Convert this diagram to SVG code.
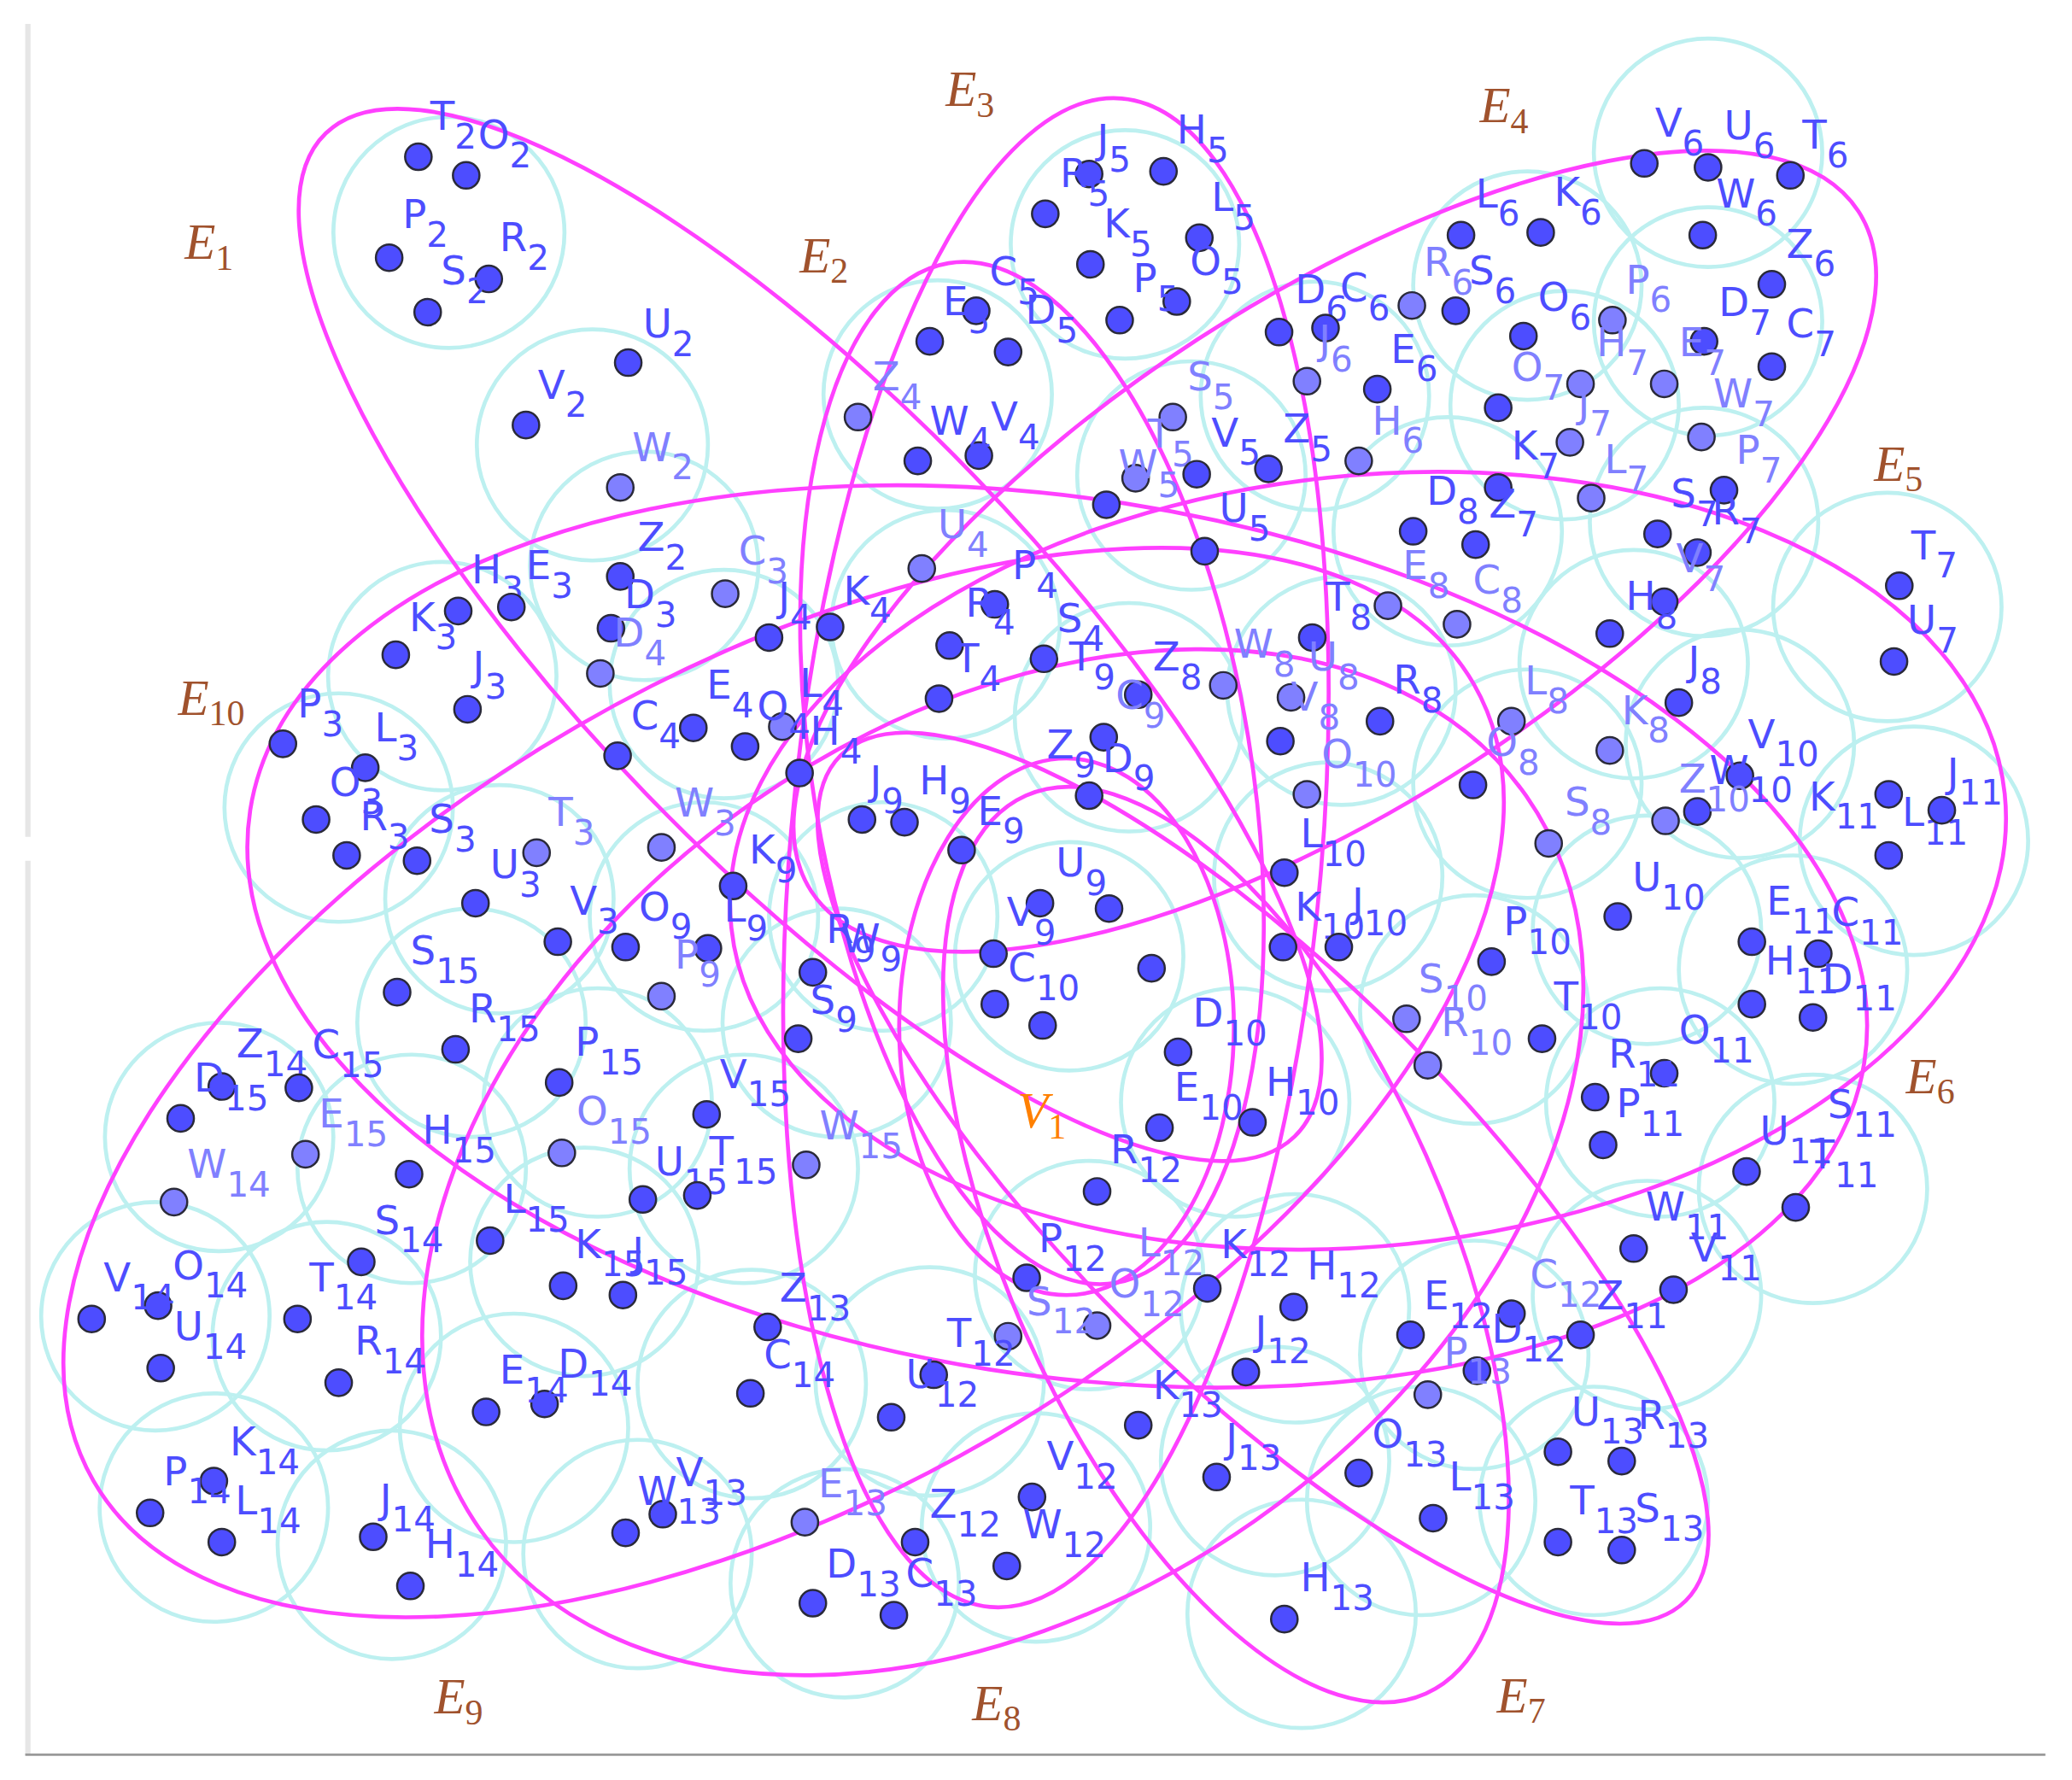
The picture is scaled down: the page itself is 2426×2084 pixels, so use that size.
<svg xmlns="http://www.w3.org/2000/svg" width="2426" height="2084" viewBox="0 0 2426 2084">
<style>
.c{fill:none;stroke:#bdf0f0;stroke-width:3}
.e{fill:none;stroke:#ff40ff;stroke-width:3}
.d{fill:#4d4dff;stroke:#2a2a3a;stroke-width:1.6}
.dl{fill:#8080ff;stroke:#2a2a3a;stroke-width:1.6}
.t{font-family:"DejaVu Sans",sans-serif;font-size:30px;fill:#4d4dff}
.tl{fill:#8080ff}
.s{font-size:26px}
.el{font-family:"Liberation Serif",serif;font-style:italic;font-size:38px;fill:#a0522d}
.en{font-style:normal;font-size:27px}
</style>
<rect width="2426" height="2084" fill="#fff"/>
<g transform="scale(1.5551)">
<g id="frame">
<line x1="21" y1="18" x2="21" y2="630" stroke="#e6e6e6" stroke-width="4"/>
<line x1="21" y1="648" x2="21" y2="1321" stroke="#e6e6e6" stroke-width="4"/>
<line x1="19" y1="1321" x2="1540" y2="1321" stroke="#999" stroke-width="1.8"/>
</g>
<g id="circles">
<circle class="c" cx="338" cy="175" r="87"/><circle class="c" cx="446" cy="335" r="87"/>
<circle class="c" cx="485" cy="426" r="86"/><circle class="c" cx="333" cy="509" r="86"/>
<circle class="c" cx="255" cy="608" r="86"/><circle class="c" cx="376" cy="677" r="86"/>
<circle class="c" cx="545" cy="515" r="86"/><circle class="c" cx="706" cy="297" r="86"/>
<circle class="c" cx="712" cy="470" r="86"/><circle class="c" cx="847" cy="184" r="86"/>
<circle class="c" cx="897" cy="358" r="86"/><circle class="c" cx="990" cy="298" r="86"/>
<circle class="c" cx="1150" cy="215" r="86"/><circle class="c" cx="1286" cy="115" r="86"/>
<circle class="c" cx="1286" cy="242" r="86"/><circle class="c" cx="1178" cy="305" r="86"/>
<circle class="c" cx="1283" cy="393" r="86"/><circle class="c" cx="1090" cy="400" r="86"/>
<circle class="c" cx="1421" cy="457" r="86"/><circle class="c" cx="1441" cy="633" r="86"/>
<circle class="c" cx="1310" cy="560" r="86"/><circle class="c" cx="1230" cy="500" r="86"/>
<circle class="c" cx="1150" cy="590" r="86"/><circle class="c" cx="1010" cy="520" r="86"/>
<circle class="c" cx="850" cy="540" r="86"/><circle class="c" cx="805" cy="720" r="86"/>
<circle class="c" cx="665" cy="690" r="86"/><circle class="c" cx="530" cy="690" r="86"/>
<circle class="c" cx="1000" cy="660" r="86"/><circle class="c" cx="1110" cy="760" r="86"/>
<circle class="c" cx="1240" cy="700" r="86"/><circle class="c" cx="1350" cy="730" r="86"/>
<circle class="c" cx="1250" cy="830" r="86"/><circle class="c" cx="1365" cy="895" r="86"/>
<circle class="c" cx="1240" cy="975" r="86"/><circle class="c" cx="930" cy="830" r="86"/>
<circle class="c" cx="820" cy="960" r="86"/><circle class="c" cx="975" cy="985" r="86"/>
<circle class="c" cx="1110" cy="1020" r="86"/><circle class="c" cx="960" cy="1100" r="86"/>
<circle class="c" cx="1070" cy="1130" r="86"/><circle class="c" cx="1200" cy="1130" r="86"/>
<circle class="c" cx="980" cy="1215" r="86"/><circle class="c" cx="780" cy="1150" r="86"/>
<circle class="c" cx="636" cy="1192" r="86"/><circle class="c" cx="480" cy="1170" r="86"/>
<circle class="c" cx="566" cy="1042" r="86"/><circle class="c" cx="700" cy="1040" r="86"/>
<circle class="c" cx="387" cy="1075" r="86"/><circle class="c" cx="295" cy="1163" r="86"/>
<circle class="c" cx="161" cy="1135" r="86"/><circle class="c" cx="117" cy="991" r="86"/>
<circle class="c" cx="246" cy="1006" r="86"/><circle class="c" cx="165" cy="856" r="86"/>
<circle class="c" cx="310" cy="880" r="86"/><circle class="c" cx="355" cy="770" r="86"/>
<circle class="c" cx="450" cy="830" r="86"/><circle class="c" cx="440" cy="950" r="86"/>
<circle class="c" cx="560" cy="880" r="86"/><circle class="c" cx="630" cy="770" r="86"/>
</g>
<g id="hyperedges">
<ellipse id="edge1" class="e" cx="610" cy="478" rx="525" ry="172" transform="rotate(46 610 478)"/>
<ellipse id="edge2" class="e" cx="777" cy="582" rx="165" ry="389" transform="rotate(-9.3 777 582)"/>
<ellipse id="edge3" class="e" cx="795" cy="642" rx="200" ry="570" transform="rotate(5 795 642)"/>
<ellipse id="edge4" class="e" cx="1005" cy="415" rx="470" ry="190" transform="rotate(-33 1005 415)"/>
<ellipse id="edge5" class="e" cx="1030" cy="648" rx="482" ry="290" transform="rotate(-6 1030 648)"/>
<ellipse id="edge6" class="e" cx="923" cy="937" rx="370" ry="165" transform="rotate(66 923 937)"/>
<ellipse id="edge7" class="e" cx="951" cy="887" rx="450" ry="150" transform="rotate(45 951 887)"/>
<ellipse id="edge8" class="e" cx="755" cy="875" rx="481" ry="330" transform="rotate(-35 755 875)"/>
<ellipse id="edge9" class="e" cx="590" cy="815" rx="600" ry="310" transform="rotate(-30 590 815)"/>
<ellipse id="edge10" class="e" cx="796" cy="705" rx="615" ry="330" transform="rotate(8.9 796 705)"/>
<ellipse id="core" class="e" cx="803" cy="773" rx="126" ry="202"/>
</g>
<g id="nodes">
<g id="T2"><circle class="d" cx="315" cy="118" r="10"/><text class="t" x="324" y="98">T<tspan class="s" dy="14">2</tspan></text></g>
<g id="O2"><circle class="d" cx="351" cy="132" r="10"/><text class="t" x="360" y="112">O<tspan class="s" dy="14">2</tspan></text></g>
<g id="P2"><circle class="d" cx="293" cy="194" r="10"/><text class="t" x="303" y="172">P<tspan class="s" dy="14">2</tspan></text></g>
<g id="R2"><circle class="d" cx="368" cy="210" r="10"/><text class="t" x="376" y="189">R<tspan class="s" dy="14">2</tspan></text></g>
<g id="S2"><circle class="d" cx="322" cy="235" r="10"/><text class="t" x="332" y="214">S<tspan class="s" dy="14">2</tspan></text></g>
<g id="U2"><circle class="d" cx="473" cy="273" r="10"/><text class="t" x="484" y="254">U<tspan class="s" dy="14">2</tspan></text></g>
<g id="V2"><circle class="d" cx="396" cy="320" r="10"/><text class="t" x="405" y="300">V<tspan class="s" dy="14">2</tspan></text></g>
<g id="W2"><circle class="dl" cx="467" cy="367" r="10"/><text class="t tl" x="476" y="347">W<tspan class="s" dy="14">2</tspan></text></g>
<g id="Z2"><circle class="d" cx="467" cy="434" r="10"/><text class="t" x="480" y="415">Z<tspan class="s" dy="14">2</tspan></text></g>
<g id="H3"><circle class="d" cx="345" cy="460" r="10"/><text class="t" x="355" y="439">H<tspan class="s" dy="14">3</tspan></text></g>
<g id="E3"><circle class="d" cx="385" cy="457" r="10"/><text class="t" x="396" y="436">E<tspan class="s" dy="14">3</tspan></text></g>
<g id="K3"><circle class="d" cx="298" cy="493" r="10"/><text class="t" x="308" y="475">K<tspan class="s" dy="14">3</tspan></text></g>
<g id="J3"><circle class="d" cx="352" cy="534" r="10"/><text class="t" x="356" y="512">J<tspan class="s" dy="14">3</tspan></text></g>
<g id="P3"><circle class="d" cx="213" cy="560" r="10"/><text class="t" x="224" y="540">P<tspan class="s" dy="14">3</tspan></text></g>
<g id="L3"><circle class="d" cx="275" cy="578" r="10"/><text class="t" x="282" y="558">L<tspan class="s" dy="14">3</tspan></text></g>
<g id="O3"><circle class="d" cx="238" cy="617" r="10"/><text class="t" x="248" y="599">O<tspan class="s" dy="14">3</tspan></text></g>
<g id="R3"><circle class="d" cx="261" cy="644" r="10"/><text class="t" x="271" y="625">R<tspan class="s" dy="14">3</tspan></text></g>
<g id="S3"><circle class="d" cx="314" cy="648" r="10"/><text class="t" x="323" y="627">S<tspan class="s" dy="14">3</tspan></text></g>
<g id="T3"><circle class="dl" cx="404" cy="642" r="10"/><text class="t tl" x="413" y="622">T<tspan class="s" dy="14">3</tspan></text></g>
<g id="U3"><circle class="d" cx="358" cy="680" r="10"/><text class="t" x="369" y="661">U<tspan class="s" dy="14">3</tspan></text></g>
<g id="V3"><circle class="d" cx="420" cy="709" r="10"/><text class="t" x="429" y="689">V<tspan class="s" dy="14">3</tspan></text></g>
<g id="W3"><circle class="dl" cx="498" cy="638" r="10"/><text class="t tl" x="508" y="615">W<tspan class="s" dy="14">3</tspan></text></g>
<g id="C3"><circle class="dl" cx="546" cy="447" r="10"/><text class="t tl" x="556" y="425">C<tspan class="s" dy="14">3</tspan></text></g>
<g id="D3"><circle class="d" cx="460" cy="473" r="10"/><text class="t" x="470" y="458">D<tspan class="s" dy="14">3</tspan></text></g>
<g id="C4"><circle class="d" cx="465" cy="569" r="10"/><text class="t" x="475" y="549">C<tspan class="s" dy="14">4</tspan></text></g>
<g id="D4"><circle class="dl" cx="452" cy="507" r="10"/><text class="t tl" x="462" y="487">D<tspan class="s" dy="14">4</tspan></text></g>
<g id="E4"><circle class="d" cx="522" cy="548" r="10"/><text class="t" x="532" y="526">E<tspan class="s" dy="14">4</tspan></text></g>
<g id="H4"><circle class="d" cx="602" cy="582" r="10"/><text class="t" x="610" y="561">H<tspan class="s" dy="14">4</tspan></text></g>
<g id="J4"><circle class="d" cx="579" cy="480" r="10"/><text class="t" x="586" y="460">J<tspan class="s" dy="14">4</tspan></text></g>
<g id="K4"><circle class="d" cx="625" cy="472" r="10"/><text class="t" x="635" y="455">K<tspan class="s" dy="14">4</tspan></text></g>
<g id="L4"><circle class="dl" cx="589" cy="547" r="10"/><text class="t" x="602" y="525">L<tspan class="s" dy="14">4</tspan></text></g>
<g id="O4"><circle class="d" cx="561" cy="562" r="10"/><text class="t" x="570" y="542">O<tspan class="s" dy="14">4</tspan></text></g>
<g id="P4"><circle class="d" cx="749" cy="455" r="10"/><text class="t" x="762" y="436">P<tspan class="s" dy="14">4</tspan></text></g>
<g id="R4"><circle class="d" cx="715" cy="486" r="10"/><text class="t" x="727" y="464">R<tspan class="s" dy="14">4</tspan></text></g>
<g id="S4"><circle class="d" cx="786" cy="496" r="10"/><text class="t" x="796" y="476">S<tspan class="s" dy="14">4</tspan></text></g>
<g id="T4"><circle class="d" cx="707" cy="526" r="10"/><text class="t" x="719" y="506">T<tspan class="s" dy="14">4</tspan></text></g>
<g id="U4"><circle class="dl" cx="694" cy="428" r="10"/><text class="t tl" x="706" y="405">U<tspan class="s" dy="14">4</tspan></text></g>
<g id="V4"><circle class="d" cx="737" cy="343" r="10"/><text class="t" x="746" y="324">V<tspan class="s" dy="14">4</tspan></text></g>
<g id="W4"><circle class="d" cx="691" cy="347" r="10"/><text class="t" x="700" y="327">W<tspan class="s" dy="14">4</tspan></text></g>
<g id="Z4"><circle class="dl" cx="646" cy="314" r="10"/><text class="t tl" x="657" y="294">Z<tspan class="s" dy="14">4</tspan></text></g>
<g id="C5"><circle class="d" cx="735" cy="234" r="10"/><text class="t" x="745" y="215">C<tspan class="s" dy="14">5</tspan></text></g>
<g id="D5"><circle class="d" cx="759" cy="265" r="10"/><text class="t" x="772" y="244">D<tspan class="s" dy="14">5</tspan></text></g>
<g id="E5"><circle class="d" cx="700" cy="257" r="10"/><text class="t" x="710" y="237">E<tspan class="s" dy="14">5</tspan></text></g>
<g id="H5"><circle class="d" cx="876" cy="129" r="10"/><text class="t" x="886" y="108">H<tspan class="s" dy="14">5</tspan></text></g>
<g id="J5"><circle class="d" cx="820" cy="131" r="10"/><text class="t" x="826" y="115">J<tspan class="s" dy="14">5</tspan></text></g>
<g id="K5"><circle class="d" cx="821" cy="199" r="10"/><text class="t" x="831" y="179">K<tspan class="s" dy="14">5</tspan></text></g>
<g id="L5"><circle class="d" cx="903" cy="179" r="10"/><text class="t" x="912" y="159">L<tspan class="s" dy="14">5</tspan></text></g>
<g id="O5"><circle class="d" cx="886" cy="227" r="10"/><text class="t" x="896" y="207">O<tspan class="s" dy="14">5</tspan></text></g>
<g id="P5"><circle class="d" cx="843" cy="241" r="10"/><text class="t" x="853" y="220">P<tspan class="s" dy="14">5</tspan></text></g>
<g id="R5"><circle class="d" cx="787" cy="161" r="10"/><text class="t" x="798" y="141">R<tspan class="s" dy="14">5</tspan></text></g>
<g id="S5"><circle class="dl" cx="883" cy="314" r="10"/><text class="t tl" x="894" y="294">S<tspan class="s" dy="14">5</tspan></text></g>
<g id="T5"><circle class="dl" cx="855" cy="360" r="10"/><text class="t tl" x="864" y="337">T<tspan class="s" dy="14">5</tspan></text></g>
<g id="U5"><circle class="d" cx="907" cy="415" r="10"/><text class="t" x="918" y="393">U<tspan class="s" dy="14">5</tspan></text></g>
<g id="V5"><circle class="d" cx="901" cy="357" r="10"/><text class="t" x="912" y="336">V<tspan class="s" dy="14">5</tspan></text></g>
<g id="W5"><circle class="d" cx="833" cy="380" r="10"/><text class="t tl" x="842" y="360">W<tspan class="s" dy="14">5</tspan></text></g>
<g id="Z5"><circle class="d" cx="955" cy="353" r="10"/><text class="t" x="966" y="333">Z<tspan class="s" dy="14">5</tspan></text></g>
<g id="D6"><circle class="d" cx="963" cy="250" r="10"/><text class="t" x="975" y="228">D<tspan class="s" dy="14">6</tspan></text></g>
<g id="C6"><circle class="d" cx="998" cy="247" r="10"/><text class="t" x="1009" y="227">C<tspan class="s" dy="14">6</tspan></text></g>
<g id="J6"><circle class="dl" cx="984" cy="287" r="10"/><text class="t tl" x="993" y="266">J<tspan class="s" dy="14">6</tspan></text></g>
<g id="E6"><circle class="d" cx="1037" cy="293" r="10"/><text class="t" x="1047" y="273">E<tspan class="s" dy="14">6</tspan></text></g>
<g id="H6"><circle class="dl" cx="1023" cy="347" r="10"/><text class="t tl" x="1033" y="327">H<tspan class="s" dy="14">6</tspan></text></g>
<g id="R6"><circle class="dl" cx="1063" cy="230" r="10"/><text class="t tl" x="1072" y="208">R<tspan class="s" dy="14">6</tspan></text></g>
<g id="S6"><circle class="d" cx="1096" cy="234" r="10"/><text class="t" x="1106" y="214">S<tspan class="s" dy="14">6</tspan></text></g>
<g id="L6"><circle class="d" cx="1100" cy="177" r="10"/><text class="t" x="1111" y="156">L<tspan class="s" dy="14">6</tspan></text></g>
<g id="K6"><circle class="d" cx="1160" cy="175" r="10"/><text class="t" x="1170" y="155">K<tspan class="s" dy="14">6</tspan></text></g>
<g id="O6"><circle class="d" cx="1147" cy="253" r="10"/><text class="t" x="1158" y="234">O<tspan class="s" dy="14">6</tspan></text></g>
<g id="V6"><circle class="d" cx="1238" cy="123" r="10"/><text class="t" x="1246" y="103">V<tspan class="s" dy="14">6</tspan></text></g>
<g id="U6"><circle class="d" cx="1286" cy="126" r="10"/><text class="t" x="1298" y="105">U<tspan class="s" dy="14">6</tspan></text></g>
<g id="T6"><circle class="d" cx="1348" cy="132" r="10"/><text class="t" x="1357" y="112">T<tspan class="s" dy="14">6</tspan></text></g>
<g id="W6"><circle class="d" cx="1282" cy="177" r="10"/><text class="t" x="1292" y="156">W<tspan class="s" dy="14">6</tspan></text></g>
<g id="Z6"><circle class="d" cx="1334" cy="214" r="10"/><text class="t" x="1345" y="194">Z<tspan class="s" dy="14">6</tspan></text></g>
<g id="P6"><circle class="dl" cx="1214" cy="241" r="10"/><text class="t tl" x="1224" y="221">P<tspan class="s" dy="14">6</tspan></text></g>
<g id="D7"><circle class="d" cx="1283" cy="257" r="10"/><text class="t" x="1294" y="238">D<tspan class="s" dy="14">7</tspan></text></g>
<g id="C7"><circle class="d" cx="1334" cy="276" r="10"/><text class="t" x="1345" y="254">C<tspan class="s" dy="14">7</tspan></text></g>
<g id="E7"><circle class="dl" cx="1253" cy="289" r="10"/><text class="t tl" x="1264" y="268">E<tspan class="s" dy="14">7</tspan></text></g>
<g id="H7"><circle class="dl" cx="1190" cy="289" r="10"/><text class="t tl" x="1202" y="268">H<tspan class="s" dy="14">7</tspan></text></g>
<g id="W7"><circle class="dl" cx="1281" cy="329" r="10"/><text class="t tl" x="1290" y="307">W<tspan class="s" dy="14">7</tspan></text></g>
<g id="O7"><circle class="d" cx="1128" cy="307" r="10"/><text class="t tl" x="1138" y="287">O<tspan class="s" dy="14">7</tspan></text></g>
<g id="J7"><circle class="dl" cx="1182" cy="333" r="10"/><text class="t tl" x="1188" y="314">J<tspan class="s" dy="14">7</tspan></text></g>
<g id="K7"><circle class="d" cx="1128" cy="367" r="10"/><text class="t" x="1138" y="346">K<tspan class="s" dy="14">7</tspan></text></g>
<g id="L7"><circle class="dl" cx="1198" cy="375" r="10"/><text class="t tl" x="1208" y="356">L<tspan class="s" dy="14">7</tspan></text></g>
<g id="P7"><circle class="d" cx="1298" cy="369" r="10"/><text class="t tl" x="1307" y="349">P<tspan class="s" dy="14">7</tspan></text></g>
<g id="S7"><circle class="d" cx="1248" cy="402" r="10"/><text class="t" x="1258" y="382">S<tspan class="s" dy="14">7</tspan></text></g>
<g id="R7"><circle class="d" cx="1278" cy="416" r="10"/><text class="t" x="1289" y="395">R<tspan class="s" dy="14">7</tspan></text></g>
<g id="V7"><circle class="d" cx="1253" cy="453" r="10"/><text class="t tl" x="1262" y="431">V<tspan class="s" dy="14">7</tspan></text></g>
<g id="T7"><circle class="d" cx="1430" cy="441" r="10"/><text class="t" x="1439" y="421">T<tspan class="s" dy="14">7</tspan></text></g>
<g id="U7"><circle class="d" cx="1426" cy="498" r="10"/><text class="t" x="1436" y="477">U<tspan class="s" dy="14">7</tspan></text></g>
<g id="Z7"><circle class="d" cx="1111" cy="410" r="10"/><text class="t" x="1121" y="390">Z<tspan class="s" dy="14">7</tspan></text></g>
<g id="D8"><circle class="d" cx="1064" cy="400" r="10"/><text class="t" x="1074" y="380">D<tspan class="s" dy="14">8</tspan></text></g>
<g id="E8"><circle class="dl" cx="1045" cy="456" r="10"/><text class="t tl" x="1056" y="436">E<tspan class="s" dy="14">8</tspan></text></g>
<g id="C8"><circle class="dl" cx="1097" cy="470" r="10"/><text class="t tl" x="1109" y="447">C<tspan class="s" dy="14">8</tspan></text></g>
<g id="T8"><circle class="d" cx="988" cy="480" r="10"/><text class="t" x="998" y="460">T<tspan class="s" dy="14">8</tspan></text></g>
<g id="U8"><circle class="dl" cx="972" cy="525" r="10"/><text class="t tl" x="985" y="505">U<tspan class="s" dy="14">8</tspan></text></g>
<g id="W8"><circle class="dl" cx="921" cy="516" r="10"/><text class="t tl" x="929" y="495">W<tspan class="s" dy="14">8</tspan></text></g>
<g id="V8"><circle class="d" cx="964" cy="558" r="10"/><text class="t tl" x="972" y="535">V<tspan class="s" dy="14">8</tspan></text></g>
<g id="R8"><circle class="d" cx="1039" cy="543" r="10"/><text class="t" x="1049" y="522">R<tspan class="s" dy="14">8</tspan></text></g>
<g id="Z8"><circle class="d" cx="857" cy="523" r="10"/><text class="t" x="868" y="505">Z<tspan class="s" dy="14">8</tspan></text></g>
<g id="H8"><circle class="d" cx="1212" cy="477" r="10"/><text class="t" x="1224" y="459">H<tspan class="s" dy="14">8</tspan></text></g>
<g id="J8"><circle class="d" cx="1264" cy="529" r="10"/><text class="t" x="1271" y="508">J<tspan class="s" dy="14">8</tspan></text></g>
<g id="K8"><circle class="dl" cx="1212" cy="565" r="10"/><text class="t tl" x="1221" y="545">K<tspan class="s" dy="14">8</tspan></text></g>
<g id="L8"><circle class="dl" cx="1138" cy="543" r="10"/><text class="t tl" x="1148" y="523">L<tspan class="s" dy="14">8</tspan></text></g>
<g id="O8"><circle class="d" cx="1109" cy="591" r="10"/><text class="t tl" x="1119" y="569">O<tspan class="s" dy="14">8</tspan></text></g>
<g id="S8"><circle class="dl" cx="1166" cy="635" r="10"/><text class="t tl" x="1178" y="614">S<tspan class="s" dy="14">8</tspan></text></g>
<g id="Z9"><circle class="d" cx="831" cy="555" r="10"/><text class="t" x="788" y="571">Z<tspan class="s" dy="14">9</tspan></text></g>
<g id="D9"><circle class="d" cx="820" cy="599" r="10"/><text class="t" x="830" y="581">D<tspan class="s" dy="14">9</tspan></text></g>
<g id="C9"><text class="t tl" x="840" y="534">C<tspan class="s" dy="14">9</tspan></text></g>
<g id="T9"><text class="t" x="805" y="505">T<tspan class="s" dy="14">9</tspan></text></g>
<g id="U9"><circle class="d" cx="835" cy="684" r="10"/><text class="t" x="795" y="660">U<tspan class="s" dy="14">9</tspan></text></g>
<g id="V9"><circle class="d" cx="783" cy="680" r="10"/><text class="t" x="758" y="697">V<tspan class="s" dy="14">9</tspan></text></g>
<g id="J9"><circle class="d" cx="649" cy="617" r="10"/><text class="t" x="655" y="598">J<tspan class="s" dy="14">9</tspan></text></g>
<g id="H9"><circle class="d" cx="681" cy="619" r="10"/><text class="t" x="692" y="598">H<tspan class="s" dy="14">9</tspan></text></g>
<g id="E9"><circle class="d" cx="724" cy="640" r="10"/><text class="t" x="736" y="621">E<tspan class="s" dy="14">9</tspan></text></g>
<g id="K9"><circle class="d" cx="552" cy="667" r="10"/><text class="t" x="564" y="650">K<tspan class="s" dy="14">9</tspan></text></g>
<g id="L9"><circle class="d" cx="533" cy="714" r="10"/><text class="t" x="545" y="694">L<tspan class="s" dy="14">9</tspan></text></g>
<g id="O9"><circle class="d" cx="471" cy="713" r="10"/><text class="t" x="481" y="693">O<tspan class="s" dy="14">9</tspan></text></g>
<g id="P9"><circle class="dl" cx="498" cy="750" r="10"/><text class="t tl" x="508" y="729">P<tspan class="s" dy="14">9</tspan></text></g>
<g id="R9"><circle class="d" cx="612" cy="732" r="10"/><text class="t" x="622" y="710">R<tspan class="s" dy="14">9</tspan></text></g>
<g id="W9"><text class="t" x="633" y="717">W<tspan class="s" dy="14">9</tspan></text></g>
<g id="S9"><circle class="d" cx="601" cy="782" r="10"/><text class="t" x="610" y="763">S<tspan class="s" dy="14">9</tspan></text></g>
<g id="C10"><circle class="d" cx="748" cy="718" r="10"/><text class="t" x="759" y="739">C<tspan class="s" dy="14">10</tspan></text></g>
<g id="core-a"><circle class="d" cx="749" cy="756" r="10"/></g>
<g id="core-b"><circle class="d" cx="785" cy="772" r="10"/></g>
<g id="core-c"><circle class="d" cx="867" cy="729" r="10"/></g>
<g id="O10"><circle class="dl" cx="984" cy="598" r="10"/><text class="t tl" x="995" y="578">O<tspan class="s" dy="14">10</tspan></text></g>
<g id="L10"><circle class="d" cx="967" cy="657" r="10"/><text class="t" x="979" y="638">L<tspan class="s" dy="14">10</tspan></text></g>
<g id="K10"><circle class="d" cx="966" cy="713" r="10"/><text class="t" x="975" y="693">K<tspan class="s" dy="14">10</tspan></text></g>
<g id="J10"><circle class="d" cx="1008" cy="713" r="10"/><text class="t" x="1018" y="690">J<tspan class="s" dy="14">10</tspan></text></g>
<g id="D10"><circle class="d" cx="887" cy="792" r="10"/><text class="t" x="898" y="773">D<tspan class="s" dy="14">10</tspan></text></g>
<g id="E10"><circle class="d" cx="873" cy="849" r="10"/><text class="t" x="884" y="829">E<tspan class="s" dy="14">10</tspan></text></g>
<g id="H10"><circle class="d" cx="943" cy="845" r="10"/><text class="t" x="953" y="825">H<tspan class="s" dy="14">10</tspan></text></g>
<g id="P10"><circle class="d" cx="1123" cy="724" r="10"/><text class="t" x="1132" y="704">P<tspan class="s" dy="14">10</tspan></text></g>
<g id="S10"><circle class="dl" cx="1059" cy="767" r="10"/><text class="t tl" x="1068" y="747">S<tspan class="s" dy="14">10</tspan></text></g>
<g id="R10"><circle class="dl" cx="1075" cy="802" r="10"/><text class="t tl" x="1085" y="780">R<tspan class="s" dy="14">10</tspan></text></g>
<g id="T10"><circle class="d" cx="1161" cy="782" r="10"/><text class="t" x="1170" y="761">T<tspan class="s" dy="14">10</tspan></text></g>
<g id="U10"><circle class="d" cx="1218" cy="690" r="10"/><text class="t" x="1229" y="671">U<tspan class="s" dy="14">10</tspan></text></g>
<g id="V10"><circle class="d" cx="1310" cy="584" r="10"/><text class="t" x="1316" y="563">V<tspan class="s" dy="14">10</tspan></text></g>
<g id="W10"><circle class="d" cx="1278" cy="611" r="10"/><text class="t" x="1287" y="590">W<tspan class="s" dy="14">10</tspan></text></g>
<g id="Z10"><circle class="dl" cx="1254" cy="618" r="10"/><text class="t tl" x="1264" y="597">Z<tspan class="s" dy="14">10</tspan></text></g>
<g id="K11"><circle class="d" cx="1422" cy="598" r="10"/><text class="t" x="1362" y="610">K<tspan class="s" dy="14">11</tspan></text></g>
<g id="L11"><circle class="d" cx="1422" cy="644" r="10"/><text class="t" x="1432" y="622">L<tspan class="s" dy="14">11</tspan></text></g>
<g id="J11"><circle class="d" cx="1462" cy="610" r="10"/><text class="t" x="1466" y="592">J<tspan class="s" dy="14">11</tspan></text></g>
<g id="E11"><circle class="d" cx="1319" cy="709" r="10"/><text class="t" x="1330" y="689">E<tspan class="s" dy="14">11</tspan></text></g>
<g id="C11"><circle class="d" cx="1369" cy="718" r="10"/><text class="t" x="1379" y="697">C<tspan class="s" dy="14">11</tspan></text></g>
<g id="H11"><circle class="d" cx="1319" cy="756" r="10"/><text class="t" x="1329" y="734">H<tspan class="s" dy="14">11</tspan></text></g>
<g id="D11"><circle class="d" cx="1365" cy="766" r="10"/><text class="t" x="1372" y="747">D<tspan class="s" dy="14">11</tspan></text></g>
<g id="O11"><circle class="d" cx="1253" cy="808" r="10"/><text class="t" x="1264" y="786">O<tspan class="s" dy="14">11</tspan></text></g>
<g id="R11"><circle class="d" cx="1201" cy="826" r="10"/><text class="t" x="1211" y="804">R<tspan class="s" dy="14">11</tspan></text></g>
<g id="P11"><circle class="d" cx="1207" cy="862" r="10"/><text class="t" x="1217" y="841">P<tspan class="s" dy="14">11</tspan></text></g>
<g id="U11"><circle class="d" cx="1315" cy="882" r="10"/><text class="t" x="1325" y="862">U<tspan class="s" dy="14">11</tspan></text></g>
<g id="T11"><circle class="d" cx="1352" cy="909" r="10"/><text class="t" x="1363" y="880">T<tspan class="s" dy="14">11</tspan></text></g>
<g id="S11"><text class="t" x="1376" y="842">S<tspan class="s" dy="14">11</tspan></text></g>
<g id="W11"><circle class="d" cx="1230" cy="940" r="10"/><text class="t" x="1239" y="919">W<tspan class="s" dy="14">11</tspan></text></g>
<g id="V11"><circle class="d" cx="1260" cy="971" r="10"/><text class="t" x="1273" y="950">V<tspan class="s" dy="14">11</tspan></text></g>
<g id="Z11"><circle class="d" cx="1190" cy="1005" r="10"/><text class="t" x="1202" y="986">Z<tspan class="s" dy="14">11</tspan></text></g>
<g id="R12"><circle class="d" cx="826" cy="897" r="10"/><text class="t" x="836" y="876">R<tspan class="s" dy="14">12</tspan></text></g>
<g id="P12"><circle class="d" cx="773" cy="962" r="10"/><text class="t" x="782" y="943">P<tspan class="s" dy="14">12</tspan></text></g>
<g id="L12"><text class="t tl" x="857" y="946">L<tspan class="s" dy="14">12</tspan></text></g>
<g id="K12"><circle class="d" cx="909" cy="970" r="10"/><text class="t" x="919" y="947">K<tspan class="s" dy="14">12</tspan></text></g>
<g id="O12"><circle class="dl" cx="826" cy="998" r="10"/><text class="t tl" x="835" y="977">O<tspan class="s" dy="14">12</tspan></text></g>
<g id="H12"><circle class="d" cx="974" cy="984" r="10"/><text class="t" x="984" y="963">H<tspan class="s" dy="14">12</tspan></text></g>
<g id="J12"><circle class="d" cx="938" cy="1033" r="10"/><text class="t" x="945" y="1012">J<tspan class="s" dy="14">12</tspan></text></g>
<g id="E12"><circle class="d" cx="1062" cy="1005" r="10"/><text class="t" x="1072" y="986">E<tspan class="s" dy="14">12</tspan></text></g>
<g id="C12"><circle class="d" cx="1138" cy="989" r="10"/><text class="t tl" x="1152" y="970">C<tspan class="s" dy="14">12</tspan></text></g>
<g id="D12"><circle class="d" cx="1112" cy="1032" r="10"/><text class="t" x="1123" y="1011">D<tspan class="s" dy="14">12</tspan></text></g>
<g id="S12"><circle class="dl" cx="759" cy="1006" r="10"/><text class="t tl" x="773" y="990">S<tspan class="s" dy="14">12</tspan></text></g>
<g id="T12"><circle class="d" cx="703" cy="1035" r="10"/><text class="t" x="713" y="1014">T<tspan class="s" dy="14">12</tspan></text></g>
<g id="U12"><circle class="d" cx="671" cy="1067" r="10"/><text class="t" x="682" y="1045">U<tspan class="s" dy="14">12</tspan></text></g>
<g id="V12"><circle class="d" cx="777" cy="1127" r="10"/><text class="t" x="788" y="1107">V<tspan class="s" dy="14">12</tspan></text></g>
<g id="W12"><circle class="d" cx="758" cy="1179" r="10"/><text class="t" x="770" y="1158">W<tspan class="s" dy="14">12</tspan></text></g>
<g id="Z12"><circle class="d" cx="689" cy="1161" r="10"/><text class="t" x="700" y="1143">Z<tspan class="s" dy="14">12</tspan></text></g>
<g id="K13"><circle class="d" cx="857" cy="1073" r="10"/><text class="t" x="868" y="1053">K<tspan class="s" dy="14">13</tspan></text></g>
<g id="J13"><circle class="d" cx="916" cy="1112" r="10"/><text class="t" x="923" y="1093">J<tspan class="s" dy="14">13</tspan></text></g>
<g id="O13"><circle class="d" cx="1023" cy="1109" r="10"/><text class="t" x="1033" y="1090">O<tspan class="s" dy="14">13</tspan></text></g>
<g id="L13"><circle class="d" cx="1079" cy="1143" r="10"/><text class="t" x="1091" y="1122">L<tspan class="s" dy="14">13</tspan></text></g>
<g id="H13"><circle class="d" cx="967" cy="1219" r="10"/><text class="t" x="979" y="1198">H<tspan class="s" dy="14">13</tspan></text></g>
<g id="P13"><circle class="dl" cx="1075" cy="1050" r="10"/><text class="t tl" x="1087" y="1028">P<tspan class="s" dy="14">13</tspan></text></g>
<g id="U13"><circle class="d" cx="1173" cy="1093" r="10"/><text class="t" x="1183" y="1073">U<tspan class="s" dy="14">13</tspan></text></g>
<g id="R13"><circle class="d" cx="1221" cy="1100" r="10"/><text class="t" x="1233" y="1076">R<tspan class="s" dy="14">13</tspan></text></g>
<g id="T13"><circle class="d" cx="1173" cy="1161" r="10"/><text class="t" x="1182" y="1140">T<tspan class="s" dy="14">13</tspan></text></g>
<g id="S13"><circle class="d" cx="1221" cy="1167" r="10"/><text class="t" x="1231" y="1146">S<tspan class="s" dy="14">13</tspan></text></g>
<g id="Z13"><circle class="d" cx="578" cy="999" r="10"/><text class="t" x="587" y="980">Z<tspan class="s" dy="14">13</tspan></text></g>
<g id="C13"><circle class="d" cx="673" cy="1216" r="10"/><text class="t" x="682" y="1195">C<tspan class="s" dy="14">13</tspan></text></g>
<g id="D13"><circle class="d" cx="612" cy="1207" r="10"/><text class="t" x="622" y="1188">D<tspan class="s" dy="14">13</tspan></text></g>
<g id="E13"><circle class="dl" cx="606" cy="1146" r="10"/><text class="t tl" x="616" y="1127">E<tspan class="s" dy="14">13</tspan></text></g>
<g id="V13"><circle class="d" cx="499" cy="1140" r="10"/><text class="t" x="509" y="1119">V<tspan class="s" dy="14">13</tspan></text></g>
<g id="W13"><circle class="d" cx="471" cy="1154" r="10"/><text class="t" x="480" y="1133">W<tspan class="s" dy="14">13</tspan></text></g>
<g id="C14"><circle class="d" cx="565" cy="1049" r="10"/><text class="t" x="575" y="1030">C<tspan class="s" dy="14">14</tspan></text></g>
<g id="D14"><circle class="d" cx="410" cy="1057" r="10"/><text class="t" x="420" y="1037">D<tspan class="s" dy="14">14</tspan></text></g>
<g id="E14"><circle class="d" cx="366" cy="1063" r="10"/><text class="t" x="376" y="1042">E<tspan class="s" dy="14">14</tspan></text></g>
<g id="Z14"><circle class="d" cx="167" cy="818" r="10"/><text class="t" x="178" y="796">Z<tspan class="s" dy="14">14</tspan></text></g>
<g id="O14"><circle class="d" cx="119" cy="983" r="10"/><text class="t" x="130" y="963">O<tspan class="s" dy="14">14</tspan></text></g>
<g id="V14"><circle class="d" cx="69" cy="993" r="10"/><text class="t" x="78" y="972">V<tspan class="s" dy="14">14</tspan></text></g>
<g id="U14"><circle class="d" cx="121" cy="1030" r="10"/><text class="t" x="131" y="1009">U<tspan class="s" dy="14">14</tspan></text></g>
<g id="T14"><circle class="d" cx="224" cy="993" r="10"/><text class="t" x="233" y="972">T<tspan class="s" dy="14">14</tspan></text></g>
<g id="S14"><circle class="d" cx="272" cy="950" r="10"/><text class="t" x="282" y="929">S<tspan class="s" dy="14">14</tspan></text></g>
<g id="R14"><circle class="d" cx="255" cy="1041" r="10"/><text class="t" x="267" y="1020">R<tspan class="s" dy="14">14</tspan></text></g>
<g id="K14"><circle class="d" cx="161" cy="1115" r="10"/><text class="t" x="173" y="1096">K<tspan class="s" dy="14">14</tspan></text></g>
<g id="P14"><circle class="d" cx="113" cy="1139" r="10"/><text class="t" x="123" y="1118">P<tspan class="s" dy="14">14</tspan></text></g>
<g id="L14"><circle class="d" cx="167" cy="1161" r="10"/><text class="t" x="177" y="1140">L<tspan class="s" dy="14">14</tspan></text></g>
<g id="J14"><circle class="d" cx="281" cy="1157" r="10"/><text class="t" x="286" y="1139">J<tspan class="s" dy="14">14</tspan></text></g>
<g id="H14"><circle class="d" cx="309" cy="1194" r="10"/><text class="t" x="320" y="1173">H<tspan class="s" dy="14">14</tspan></text></g>
<g id="W14"><circle class="dl" cx="131" cy="905" r="10"/><text class="t tl" x="141" y="887">W<tspan class="s" dy="14">14</tspan></text></g>
<g id="S15"><circle class="d" cx="299" cy="747" r="10"/><text class="t" x="309" y="726">S<tspan class="s" dy="14">15</tspan></text></g>
<g id="R15"><circle class="d" cx="343" cy="790" r="10"/><text class="t" x="353" y="770">R<tspan class="s" dy="14">15</tspan></text></g>
<g id="C15"><circle class="d" cx="225" cy="819" r="10"/><text class="t" x="235" y="797">C<tspan class="s" dy="14">15</tspan></text></g>
<g id="D15"><circle class="d" cx="136" cy="842" r="10"/><text class="t" x="146" y="822">D<tspan class="s" dy="14">15</tspan></text></g>
<g id="E15"><circle class="dl" cx="230" cy="869" r="10"/><text class="t tl" x="240" y="849">E<tspan class="s" dy="14">15</tspan></text></g>
<g id="H15"><circle class="d" cx="308" cy="884" r="10"/><text class="t" x="318" y="861">H<tspan class="s" dy="14">15</tspan></text></g>
<g id="L15"><circle class="d" cx="369" cy="934" r="10"/><text class="t" x="379" y="913">L<tspan class="s" dy="14">15</tspan></text></g>
<g id="K15"><circle class="d" cx="424" cy="968" r="10"/><text class="t" x="433" y="947">K<tspan class="s" dy="14">15</tspan></text></g>
<g id="J15"><circle class="d" cx="469" cy="975" r="10"/><text class="t" x="476" y="953">J<tspan class="s" dy="14">15</tspan></text></g>
<g id="P15"><circle class="d" cx="421" cy="815" r="10"/><text class="t" x="433" y="795">P<tspan class="s" dy="14">15</tspan></text></g>
<g id="O15"><circle class="dl" cx="423" cy="868" r="10"/><text class="t tl" x="434" y="847">O<tspan class="s" dy="14">15</tspan></text></g>
<g id="U15"><circle class="d" cx="484" cy="903" r="10"/><text class="t" x="493" y="885">U<tspan class="s" dy="14">15</tspan></text></g>
<g id="T15"><circle class="d" cx="525" cy="900" r="10"/><text class="t" x="534" y="877">T<tspan class="s" dy="14">15</tspan></text></g>
<g id="V15"><circle class="d" cx="532" cy="839" r="10"/><text class="t" x="542" y="819">V<tspan class="s" dy="14">15</tspan></text></g>
<g id="W15"><circle class="dl" cx="607" cy="877" r="10"/><text class="t tl" x="617" y="858">W<tspan class="s" dy="14">15</tspan></text></g>
</g>
<g id="edge-labels">
<text class="el" x="139" y="195">E<tspan class="en" dy="8">1</tspan></text>
<text class="el" x="602" y="205">E<tspan class="en" dy="8">2</tspan></text>
<text class="el" x="712" y="80">E<tspan class="en" dy="8">3</tspan></text>
<text class="el" x="1114" y="92">E<tspan class="en" dy="8">4</tspan></text>
<text class="el" x="1411" y="362">E<tspan class="en" dy="8">5</tspan></text>
<text class="el" x="1435" y="823">E<tspan class="en" dy="8">6</tspan></text>
<text class="el" x="1127" y="1289">E<tspan class="en" dy="8">7</tspan></text>
<text class="el" x="732" y="1295">E<tspan class="en" dy="8">8</tspan></text>
<text class="el" x="327" y="1290">E<tspan class="en" dy="8">9</tspan></text>
<text class="el" x="134" y="538">E<tspan class="en" dy="8">10</tspan></text>
<text class="el" x="766" y="849" style="fill:#ff8000">V<tspan class="en" dy="8">1</tspan></text>
</g>
</g>
</svg>
